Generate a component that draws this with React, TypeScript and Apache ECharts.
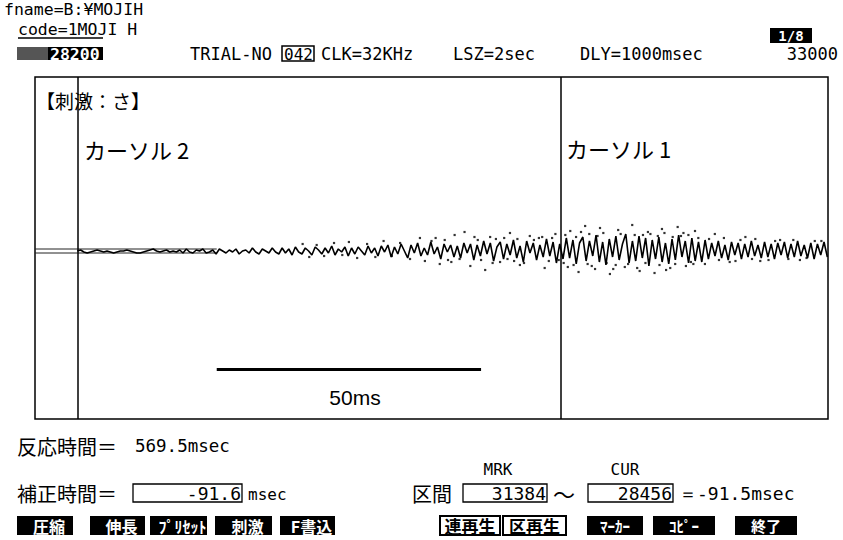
import React, { useEffect, useRef } from 'react';
import * as echarts from 'echarts';

// ---- header / axis values ----
const rangeStart = 28200;
const rangeEnd = 33000;
const cursorCur = 28456; // カーソル2
const cursorMrk = 31384; // カーソル1
const trialNo = '042';
const pageLabel = '1/8';

// ---- waveform (sample step 20 from cursor 2), amplitude in display units ----
const waveStart = 28456;
const sampleStep = 20;
const waveValues = [
  -1, 0, -2, -3, -2, -1, 0, -1, -2, -1, -2, -3, -2, -1, -1, 0, -1, -2, -3, -3, -2, -1, 0, 1, -1, -2, -1, 0, -2, -1, -2,
  0, -3, 1, -2, -3, 0, -1, 1, -3, -2, 0, -4, 1, -1, -3, 0, -2, 1, -4, -1, 0, -3, 2, -2, -4, 1, -1, -3, 2, -2,
  -4, 2, -3, 1, -5, 3, -2, -4, 2, -1, -5, 3, 0, -4, 2, -3, 4, -5, 1, -2, 3, -6, 2, -4, 3, -1, -5, 4, -3, 2,
  -6, 4, -2, 5, -7, 3, -4, 6, -1, -8, 5, -3, 7, -6, 2, -5, 8, -4, 3, -9, 6, -2, 5, -7, 4, -8, 7, -3, 6, -10,
  5, -6, 9, -4, 7, -11, 3, 8, -9, 6, -5, 10, -8, 4, -12, 9, -3, 7, -10, 5, -7, 11, -6, 8, -13, 6, -9,
  12, -8, 10, -14, 7, 13, -11, 9, -6, 15, -12, 8, -15, 11, -7, 14, -10, 6, 16, -13, 9, -11, 14, -8, 12, -16, 10, -9, 13, -12, 7, -14, 11, -10, 15, -7, 9, -13, 12, -11, 8, -12, 10,
  -9, 7, -6, 9, -8, 5, -10, 8, -5, 7, -9, 6, -7, 9, -6, 5, -8, 8, -7, 6, -9, 7, -5, 8, -8, 6, -7, 9, -6, 5, -8, 7, -9, 6, -5, 8, -7,
];

// scattered sample dots [sample, amplitude]
const noiseDots = [
  [29820, 6], [29860, -7], [29905, 5], [29950, -6], [30010, 7], [30060, -5], [30100, 8], [30150, -8],
  [30210, 6], [30260, -7], [30310, 9], [30360, -6], [30410, 7], [30470, -9],
  [30530, 12], [30560, -11], [30600, 9], [30625, 12], [30650, -14], [30680, 10], [30700, -10], [30720, -12],
  [30740, 15], [30770, -9], [30800, 18], [30835, -16], [30860, 13], [30880, 10], [30900, -10], [30925, -20],
  [30955, 13], [30970, -13], [30990, 11], [31015, -12], [31040, 12], [31060, -9], [31075, 17], [31100, -11],
  [31120, 11], [31135, -15], [31160, -13], [31195, 14], [31220, 10], [31250, 12], [31270, 13], [31285, -18],
  [31310, -11], [31330, 12], [31350, 16], [31370, -10], [31400, -13], [31410, 15], [31425, -17], [31440, 19],
  [31460, -15], [31475, 13], [31490, -22], [31505, 18], [31530, 24], [31545, -14], [31555, 16], [31570, -16],
  [31590, -19], [31605, 14], [31620, 22], [31640, 17], [31660, -13], [31680, -24], [31700, -19], [31715, -15],
  [31730, 20], [31745, 16], [31770, -17], [31790, -14], [31815, 25], [31830, 15], [31845, -18], [31860, -21],
  [31880, 15], [31895, -13], [31910, 18], [31925, 16], [31950, -23], [31970, 14], [31980, -15], [31995, 21],
  [32010, 17], [32020, -20], [32045, -18], [32060, 13], [32075, -14], [32090, 23], [32110, 14], [32125, 17],
  [32140, -16], [32155, 15], [32170, -12], [32185, -14], [32195, 19], [32215, 12], [32255, -14], [32280, 11],
  [32315, 16], [32340, -10], [32370, 12], [32405, -12], [32440, -11], [32470, 10], [32500, 13], [32540, -9],
  [32560, 11], [32590, -11], [32640, -10], [32680, 9], [32710, 10], [32760, -9], [32790, 10], [32830, -10],
  [32870, -8], [32920, 9], [32960, 9],
];

// scale bar: 50 ms at 32 kHz = 1600 samples
const scaleBarStart = 29300;
const scaleBarEnd = 30900;
const scaleBarLevel = -119;
const scaleBarLabel = '50ms';

const reactionTime = '569.5msec';
const correctionTime = '-91.6';
const intervalResult = '＝-91.5msec';

const leftButtons = ['圧縮', '伸長', 'ﾌﾟﾘｾｯﾄ', '刺激', 'F書込'];
const rightButtons = ['連再生', '区再生', 'ﾏｰｶｰ', 'ｺﾋﾟｰ', '終了'];

const MONO = 'DejaVu Sans Mono';
const JP = 'Noto Sans CJK JP';

function txt(text: string, x: number, y: number, size: number, family: string, opts: any = {}) {
  return {
    type: 'text',
    z: 10,
    style: {
      text,
      x,
      y,
      font: `${opts.weight || 'normal'} ${size}px "${family}"`,
      fill: opts.fill || '#000',
      textAlign: opts.align || 'left',
      align: opts.align || 'left',
      textVerticalAlign: 'middle',
      verticalAlign: 'middle',
      lineHeight: opts.lineHeight || undefined,
    },
  };
}

function rect(x: number, y: number, w: number, h: number, fill: string, stroke?: string, lw = 1.2) {
  return {
    type: 'rect',
    z: 9,
    shape: { x, y, width: w, height: h },
    style: { fill, stroke: stroke || 'none', lineWidth: lw },
  };
}

export default function App() {
  const ref = useRef<HTMLDivElement>(null);
  useEffect(() => {
    const chart = echarts.init(ref.current!, null, { renderer: 'svg' });
    const waveData = waveValues.map((v, i) => [waveStart + i * sampleStep, v]);

    const leftPos = [[17, 56], [90, 55], [150, 57], [215, 57], [280, 55]];
    const rightPos = [[440, 60], [503, 63], [587, 56], [653, 62], [735, 62]];
    const btnY = 516;
    const btnH = 19;
    const buttons: any[] = [];
    leftButtons.forEach((b, i) => {
      const [x, w] = leftPos[i];
      buttons.push(rect(x, btnY, w, btnH, '#000'));
      buttons.push(txt(b, x + w / 2 + 4, btnY + btnH / 2, 16, JP, { fill: '#fff', align: 'center', weight: 'bold' }));
    });
    rightButtons.forEach((b, i) => {
      const [x, w] = rightPos[i];
      if (i < 2) {
        buttons.push(rect(x, btnY, w, btnH, '#fff', '#000', 2));
        buttons.push(txt(b, x + w / 2, btnY + btnH / 2, 17, JP, { fill: '#000', align: 'center', weight: 'bold' }));
      } else {
        buttons.push(rect(x, btnY, w, btnH, '#000'));
        buttons.push(txt(b, x + w / 2, btnY + btnH / 2, 15, JP, { fill: '#fff', align: 'center', weight: 'bold' }));
      }
    });

    const option: any = {
      animation: false,
      backgroundColor: '#fff',
      grid: {
        left: 35,
        right: 15,
        top: 77,
        bottom: 121,
        show: true,
        borderColor: '#000',
        borderWidth: 1.5,
      },
      xAxis: {
        type: 'value',
        min: rangeStart,
        max: rangeEnd,
        axisLine: { show: false },
        axisTick: { show: false },
        axisLabel: { show: false },
        splitLine: { show: false },
      },
      yAxis: {
        type: 'value',
        min: -169,
        max: 173,
        axisLine: { show: false },
        axisTick: { show: false },
        axisLabel: { show: false },
        splitLine: { show: false },
      },
      series: [
        {
          type: 'line',
          data: [[rangeStart, 1], [29300, 1]],
          showSymbol: false,
          lineStyle: { color: '#222', width: 1 },
          silent: true,
        },
        {
          type: 'line',
          data: [[rangeStart, -3], [29300, -3]],
          showSymbol: false,
          lineStyle: { color: '#222', width: 1 },
          silent: true,
        },
        {
          type: 'line',
          data: waveData,
          showSymbol: false,
          lineStyle: { color: '#000', width: 1.6 },
          silent: true,
          markLine: {
            silent: true,
            symbol: 'none',
            label: { show: false },
            lineStyle: { color: '#000', width: 1.5, type: 'solid' },
            data: [
              { xAxis: cursorCur },
              { xAxis: cursorMrk },
              [
                { coord: [scaleBarStart, scaleBarLevel], lineStyle: { width: 3, color: '#000', type: 'solid' } },
                { coord: [scaleBarEnd, scaleBarLevel] },
              ],
            ],
          },
        },
        {
          type: 'scatter',
          data: noiseDots,
          symbol: 'rect',
          symbolSize: 2.2,
          itemStyle: { color: '#000' },
          silent: true,
        },
      ],
      graphic: [
        txt('fname=B:¥MOJIH', 4, 9, 16.5, MONO, { lineHeight: 14 }),
        txt('code=1MOJI H', 18, 29, 16.5, MONO, { lineHeight: 14 }),
        { type: 'line', z: 9, shape: { x1: 18, y1: 38, x2: 103, y2: 38 }, style: { stroke: '#000', lineWidth: 1.5 } },
        rect(770, 28, 42, 15, '#000'),
        txt(pageLabel, 791, 36, 14, MONO, { fill: '#fff', align: 'center', weight: 'bold' }),
        rect(17, 47, 31, 13, '#555'),
        rect(48, 47, 55, 13, '#000'),
        txt(String(rangeStart), 50, 54, 16.5, MONO, { fill: '#fff', weight: 'bold' }),
        txt('TRIAL-NO', 190, 54, 17, MONO),
        rect(282, 46, 32, 15, 'none', '#000', 1.5),
        txt(trialNo, 284, 54, 16, MONO),
        txt('CLK=32KHz', 321, 54, 17, MONO),
        txt('LSZ=2sec', 453, 54, 17, MONO),
        txt('DLY=1000msec', 580, 54, 17, MONO),
        txt(String(rangeEnd), 838, 54, 17, MONO, { align: 'right' }),

        txt('【刺激：さ】', 36, 100, 19, JP),
        txt('カーソル 2', 84, 149, 22, JP),
        txt('カーソル 1', 566, 148, 22, JP),
        txt(scaleBarLabel, 355, 397, 21, 'Liberation Sans', { align: 'center' }),

        txt('反応時間＝', 17, 446, 20, JP),
        txt(reactionTime, 135, 446, 17.5, MONO),
        txt('補正時間＝', 17, 493, 20, JP),
        rect(133, 484, 109, 18, 'none', '#000', 1.3),
        txt(correctionTime, 241, 493, 18, MONO, { align: 'right' }),
        txt('msec', 248, 494, 16, MONO),

        txt('区間', 412, 493, 20, JP),
        txt('MRK', 498, 469, 16, MONO, { align: 'center' }),
        rect(463, 484, 84, 18, 'none', '#000', 1.3),
        txt(String(cursorMrk), 546, 493, 18, MONO, { align: 'right' }),
        txt('～', 564, 493, 22, JP, { align: 'center' }),
        txt('CUR', 625, 469, 16, MONO, { align: 'center' }),
        rect(588, 484, 85, 18, 'none', '#000', 1.3),
        txt(String(cursorCur), 672, 493, 18, MONO, { align: 'right' }),
        txt(intervalResult, 679, 493, 18, MONO),
        ...buttons,
      ],
    };
    chart.setOption(option);
    return () => chart.dispose();
  }, []);
  return (
    <div
      ref={ref}
      style={{ position: 'fixed', left: 0, top: 0, width: 843, height: 540, background: '#fff' }}
    />
  );
}
